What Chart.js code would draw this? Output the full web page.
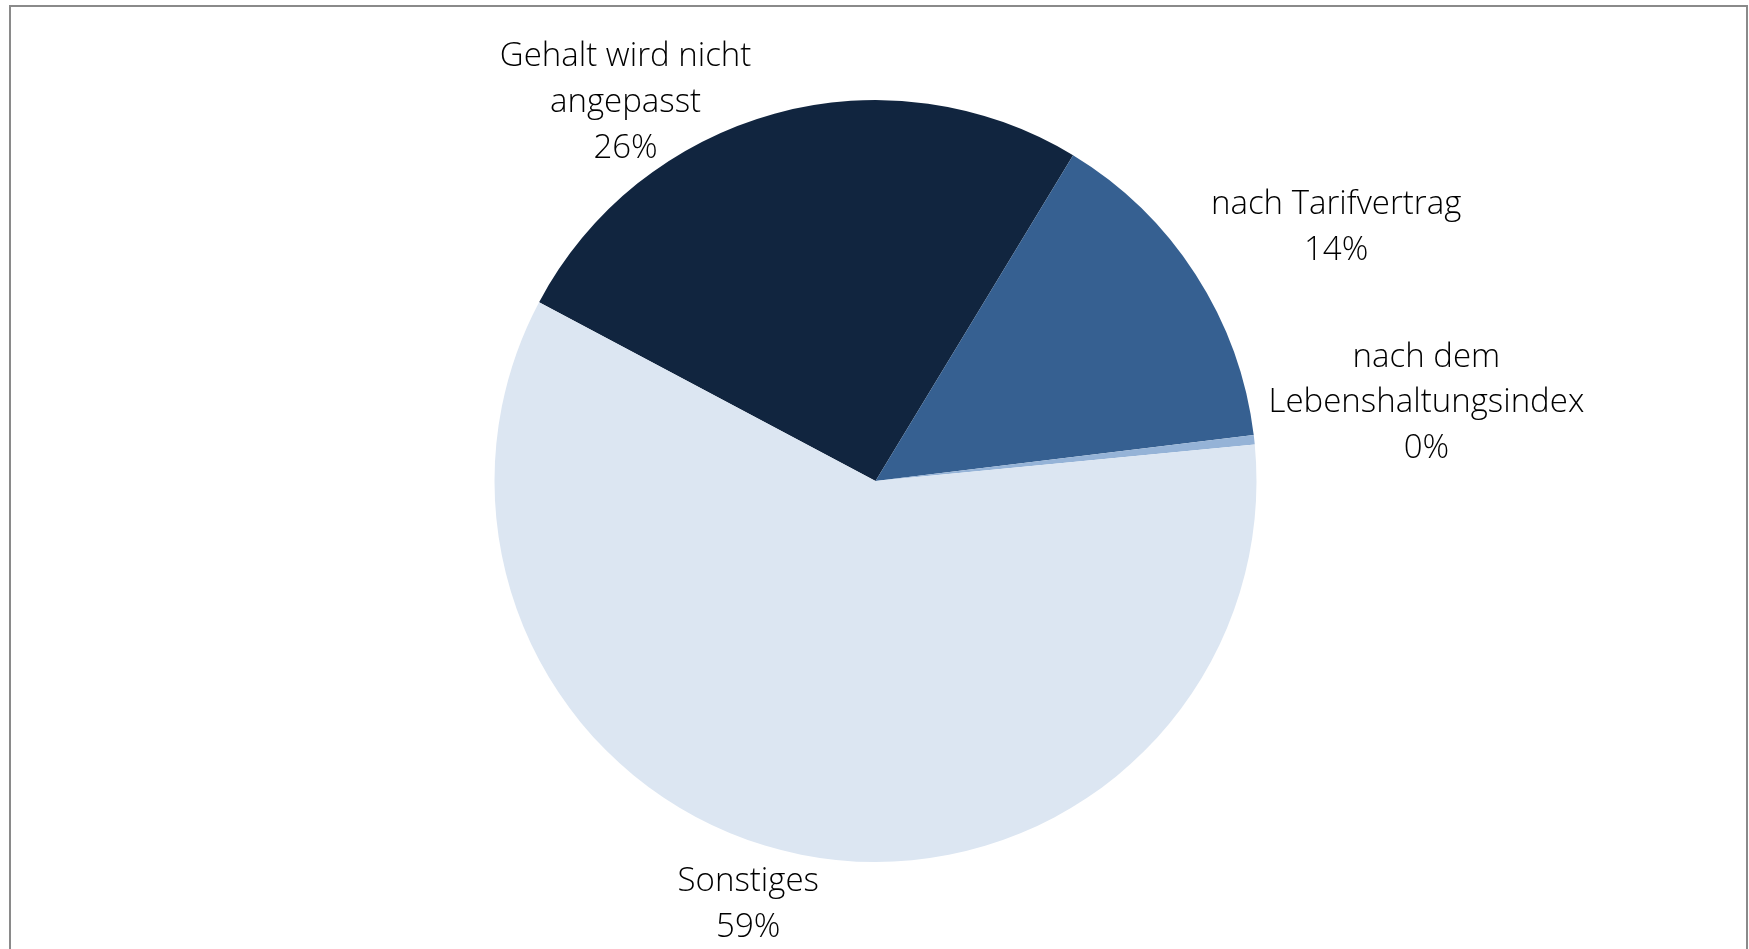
<!DOCTYPE html>
<html>
<head>
<meta charset="utf-8">
<style>
  html, body { margin: 0; padding: 0; background: #ffffff; }
  #wrap { position: relative; width: 1749px; height: 949px; }
</style>
<script src="https://cdn.jsdelivr.net/npm/chart.js@4/dist/chart.umd.min.js"></script>
</head>
<body>
<div id="wrap"><canvas id="c" width="1749" height="949"></canvas></div>
<script>
// ---- data ----
const categories = [
  ["Gehalt wird nicht", "angepasst"],
  ["nach Tarifvertrag"],
  ["nach dem", "Lebenshaltungsindex"],
  ["Sonstiges"]
];
const shares = [25.9, 14.4, 0.4, 59.3];
const percentLabels = ["26%", "14%", "0%", "59%"];

// ---- styles ----
const sliceColors = ["#11253F", "#366091", "#95B3D7", "#DCE6F2"];
// label block centers relative to pie centre, in units of the radius
const labelOffsets = [[-0.656, -0.993], [1.209, -0.666], [1.446, -0.205], [-0.334, 1.112]];
const labelFont = "300 33px 'Open Sans'";
const lineHeight = 45.7;

const framePlugin = {
  id: 'frame',
  beforeDraw(chart) {
    const ctx = chart.ctx;
    ctx.save();
    ctx.fillStyle = '#ffffff';
    ctx.fillRect(0, 0, chart.width, chart.height);
    ctx.strokeStyle = '#8a8a8a';
    ctx.lineWidth = 2;
    ctx.strokeRect(10, 6, 1737, 1000);
    ctx.restore();
  }
};

const labelPlugin = {
  id: 'outerLabels',
  afterDatasetsDraw(chart) {
    const ctx = chart.ctx;
    const meta = chart.getDatasetMeta(0);
    ctx.save();
    ctx.font = labelFont;
    ctx.fillStyle = '#000000';
    ctx.textAlign = 'center';
    ctx.textBaseline = 'middle';
    meta.data.forEach((arc, i) => {
      const r = arc.outerRadius;
      const cx = arc.x + labelOffsets[i][0] * r;
      const cy = arc.y + labelOffsets[i][1] * r;
      const lines = categories[i].concat([percentLabels[i]]);
      const top = cy - (lines.length - 1) * lineHeight / 2;
      lines.forEach((t, j) => ctx.fillText(t, cx, top + j * lineHeight));
    });
    ctx.restore();
  }
};

new Chart(document.getElementById('c'), {
  type: 'pie',
  data: {
    labels: categories.map(c => c.join(' ')),
    datasets: [{
      data: shares,
      backgroundColor: sliceColors,
      borderWidth: 0
    }]
  },
  options: {
    responsive: false,
    animation: false,
    rotation: -62.0,
    layout: { padding: { top: 100, bottom: 87, left: 2, right: 0 } },
    plugins: {
      legend: { display: false },
      tooltip: { enabled: false },
      title: { display: false }
    }
  },
  plugins: [framePlugin, labelPlugin]
});
</script>
</body>
</html>
